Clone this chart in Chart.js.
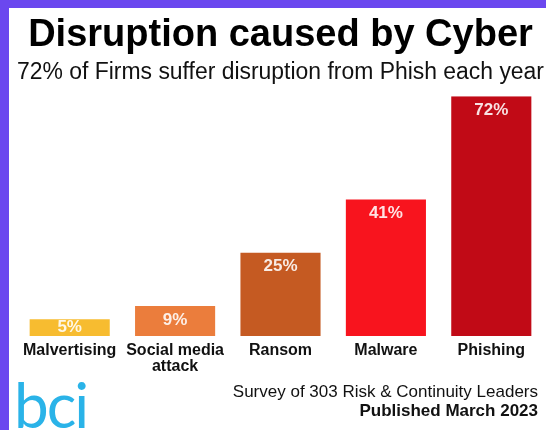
<!DOCTYPE html>
<html>
<head>
<meta charset="utf-8">
<script src="https://cdn.jsdelivr.net/npm/chart.js@4.4.1/dist/chart.umd.min.js"></script>
<style>
  html, body { margin: 0; padding: 0; background: #fff; }
  #frame {
    width: 537px;
    height: 422px;
    border-left: 9px solid #6b47ef;
    border-top: 8px solid #6b47ef;
  }
  canvas { display: block; }
</style>
</head>
<body>
<div id="frame"><canvas id="chart" width="537" height="422"></canvas></div>
<script>
// chart data
const categories = ['Malvertising', ['Social media', 'attack'], 'Ransom', 'Malware', 'Phishing'];
const disruption = [5, 9, 25, 41, 72];
const titleText = 'Disruption caused by Cyber';
const subtitleText = '72% of Firms suffer disruption from Phish each year';
const footerLines = ['Survey of 303 Risk & Continuity Leaders', 'Published March 2023'];
const logoText = 'bci';

const barColors = ['#f7bc30', '#eb7d3c', '#c55a22', '#f8141e', '#c10a16'];
const FONT = "'Liberation Sans', Arial, sans-serif";

Chart.defaults.font.family = FONT;

// percent labels inside the top of each bar
const valueLabels = {
  id: 'valueLabels',
  afterDatasetsDraw(chart) {
    const ctx = chart.ctx;
    const meta = chart.getDatasetMeta(0);
    ctx.save();
    ctx.font = 'bold 17px ' + FONT;
    ctx.fillStyle = 'rgba(255,255,255,0.88)';
    ctx.textAlign = 'center';
    ctx.textBaseline = 'middle';
    meta.data.forEach((bar, i) => {
      const y = Math.min(bar.y + 14, bar.base - 9);
      ctx.fillText(disruption[i] + '%', bar.x, y);
    });
    ctx.restore();
  }
};

// source note and logo at the bottom
const footer = {
  id: 'footer',
  afterDraw(chart) {
    const ctx = chart.ctx;
    const w = chart.width;
    ctx.save();
    ctx.fillStyle = '#111';
    ctx.textAlign = 'right';
    ctx.textBaseline = 'alphabetic';
    ctx.font = '17px ' + FONT;
    ctx.fillText(footerLines[0], w - 8, 389);
    ctx.font = 'bold 17px ' + FONT;
    ctx.fillText(footerLines[1], w - 8, 408);

    ctx.fillStyle = '#2ab3e8';
    ctx.textAlign = 'left';
    ctx.font = "400 62px Lato, 'Open Sans', sans-serif";
    ctx.letterSpacing = '-2px';
    ctx.fillText(logoText, 5, 420);
    ctx.restore();
  }
};

new Chart(document.getElementById('chart'), {
  type: 'bar',
  data: {
    labels: categories,
    datasets: [{
      data: disruption,
      backgroundColor: barColors,
      borderWidth: 0,
      barPercentage: 0.76,
      categoryPercentage: 1
    }]
  },
  options: {
    responsive: false,
    animation: false,
    devicePixelRatio: 1,
    layout: { padding: { left: 8, right: 2, top: 0, bottom: 48 } },
    plugins: {
      legend: { display: false },
      tooltip: { enabled: false },
      title: {
        display: true,
        text: titleText,
        color: '#000',
        font: { size: 38, weight: 'bold' },
        padding: { top: 5, bottom: 0 }
      },
      subtitle: {
        display: true,
        text: subtitleText,
        color: '#111',
        font: { size: 23 },
        padding: { top: 0, bottom: 10 }
      }
    },
    scales: {
      x: {
        grid: { display: false, drawTicks: false },
        border: { display: false },
        ticks: {
          color: '#111',
          padding: 7,
          font: { size: 16, weight: 'bold', lineHeight: 1.0 }
        }
      },
      y: {
        display: false,
        min: 0,
        max: 72
      }
    }
  },
  plugins: [valueLabels, footer]
});
</script>
</body>
</html>
